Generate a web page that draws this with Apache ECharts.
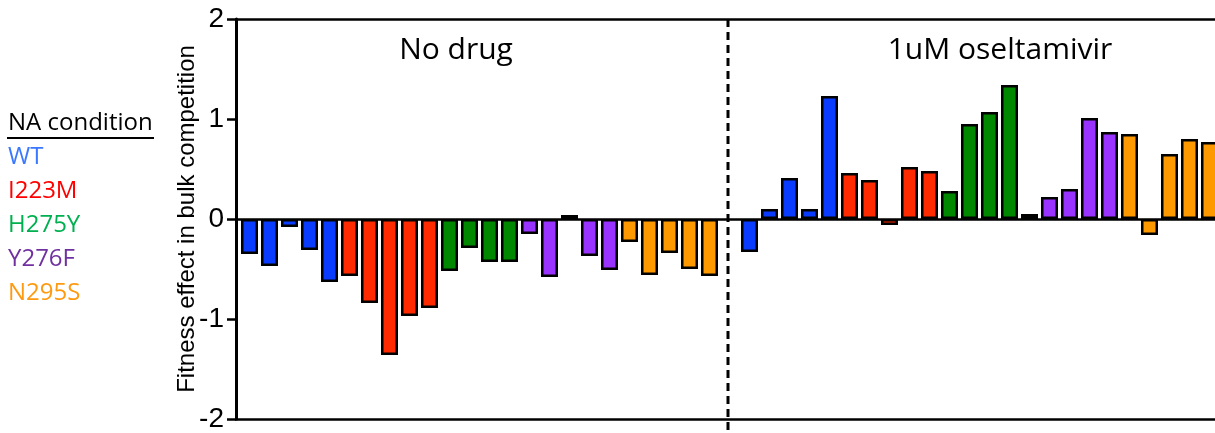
<!DOCTYPE html>
<html>
<head>
<meta charset="utf-8">
<script src="https://cdn.jsdelivr.net/npm/echarts@6/dist/echarts.min.js"></script>
<style>
  html, body { margin: 0; padding: 0; background: #fff; }
  #chart { width: 1215px; height: 433px; }
</style>
</head>
<body>
<div id="chart"></div>
<script>
// groups of bars, left to right
var groups = ['No drug', '1uM oseltamivir'];
var conditions = ['WT', 'I223M', 'H275Y', 'Y276F', 'N295S'];
var barColors = ['#0a3cff', '#ff2a00', '#008800', '#9933ff', '#ff9900'];
var labelColors = ['#3a78ff', '#ff0000', '#00b050', '#7030a0', '#ff9a10'];

// fitness effect, one array per condition per group
var noDrug = {
  'WT':    [-0.35, -0.47, -0.08, -0.31, -0.63],
  'I223M': [-0.57, -0.84, -1.36, -0.97, -0.89],
  'H275Y': [-0.52, -0.29, -0.43, -0.43],
  'Y276F': [-0.15, -0.58, 0.04, -0.37, -0.51],
  'N295S': [-0.23, -0.56, -0.34, -0.50, -0.57]
};
var oseltamivir = {
  'WT':    [-0.33, 0.10, 0.41, 0.10, 1.23],
  'I223M': [0.46, 0.39, -0.06, 0.52, 0.48],
  'H275Y': [0.28, 0.95, 1.07, 1.34],
  'Y276F': [0.05, 0.22, 0.30, 1.01, 0.87],
  'N295S': [0.85, -0.16, 0.65, 0.80, 0.77]
};
var yTicks = [-2, -1, 0, 1, 2];

// bars sit in consecutive slots, one empty slot between the groups
var seriesData = {};
conditions.forEach(function (c) { seriesData[c] = []; });
var slot = 1;
var dividerSlot = 0;
[noDrug, oseltamivir].forEach(function (grp, g) {
  conditions.forEach(function (c) {
    grp[c].forEach(function (v) {
      seriesData[c].push([slot, v]);
      slot++;
    });
  });
  if (g === 0) { dividerSlot = slot; slot++; }
});

var chart = echarts.init(document.getElementById('chart'));

var series = conditions.map(function (c, i) {
  var s = {
    name: c,
    type: 'bar',
    stack: 'all',
    barWidth: 17,
    data: seriesData[c],
    itemStyle: { color: barColors[i], borderColor: '#000', borderWidth: 2.5 },
    emphasis: { disabled: true }
  };
  if (i === 0) {
    s.markLine = {
      silent: true,
      symbol: 'none',
      label: { show: false },
      lineStyle: { color: '#000', width: 2.5, type: 'solid' },
      data: [{ yAxis: 0 }]
    };
  }
  return s;
});

// slot axis: the last bar runs off the right edge
var frameAxis = function (pos) {
  return {
    type: 'value',
    min: 0.325, max: 49.275,
    position: pos,
    axisLine: { show: true, onZero: false, lineStyle: { color: '#000', width: 2.5 } },
    axisTick: { show: false }, axisLabel: { show: false }, splitLine: { show: false }
  };
};

var option = {
  animation: false,
  title: [{
    text: groups[0],
    left: 451, top: 30, textAlign: 'center',
    textStyle: { fontFamily: 'Open Sans', fontSize: 30, fontWeight: 'normal', color: '#000' }
  }, {
    text: groups[1],
    left: 995, top: 30, textAlign: 'center',
    textStyle: { fontFamily: 'Open Sans', fontSize: 30, fontWeight: 'normal', color: '#000' }
  }, {
    text: 'NA condition',
    left: 3, top: 106,
    textStyle: { fontFamily: 'Open Sans', fontSize: 24, fontWeight: 'normal', color: '#000' }
  }],
  legend: {
    orient: 'vertical',
    left: -2, top: 140,
    icon: 'none',
    itemWidth: 0, itemHeight: 0,
    itemGap: 10,
    selectedMode: false,
    textStyle: { fontFamily: 'Open Sans', fontSize: 24, lineHeight: 24 },
    data: conditions.map(function (c, i) {
      return { name: c, textStyle: { color: labelColors[i] } };
    })
  },
  grid: { left: 236, right: 0, top: 19, bottom: 14 },
  xAxis: [frameAxis('bottom'), frameAxis('top')],
  yAxis: {
    type: 'value',
    min: yTicks[0], max: yTicks[yTicks.length - 1], interval: 1,
    name: 'Fitness effect in bulk competition',
    nameLocation: 'middle',
    nameGap: 37,
    nameMoveOverlap: false,
    nameTextStyle: { fontFamily: 'Liberation Sans', fontSize: 24, color: '#000' },
    axisLine: { show: true, lineStyle: { color: '#000', width: 3 } },
    axisTick: { show: true, length: 9, lineStyle: { color: '#000', width: 2.5 } },
    axisLabel: { margin: 12, fontFamily: 'Liberation Sans', fontSize: 28, color: '#000' },
    splitLine: { show: false }
  },
  series: series
};
chart.setOption(option);

// dashed divider in the empty slot, running past the bottom line
var dx = chart.convertToPixel({ xAxisIndex: 0 }, dividerSlot);
var dTop = chart.convertToPixel({ yAxisIndex: 0 }, yTicks[yTicks.length - 1]);
chart.setOption({
  graphic: [{
    type: 'line',
    shape: { x1: dx - 1.5, y1: dTop, x2: dx - 1.5, y2: chart.getHeight() },
    style: { stroke: '#000', lineWidth: 3, lineDash: [8, 5] },
    z: 10, silent: true
  }, {
    type: 'line',
    shape: { x1: 7, y1: 138, x2: 154, y2: 138 },
    style: { stroke: '#000', lineWidth: 2 },
    silent: true
  }]
});
</script>
</body>
</html>
